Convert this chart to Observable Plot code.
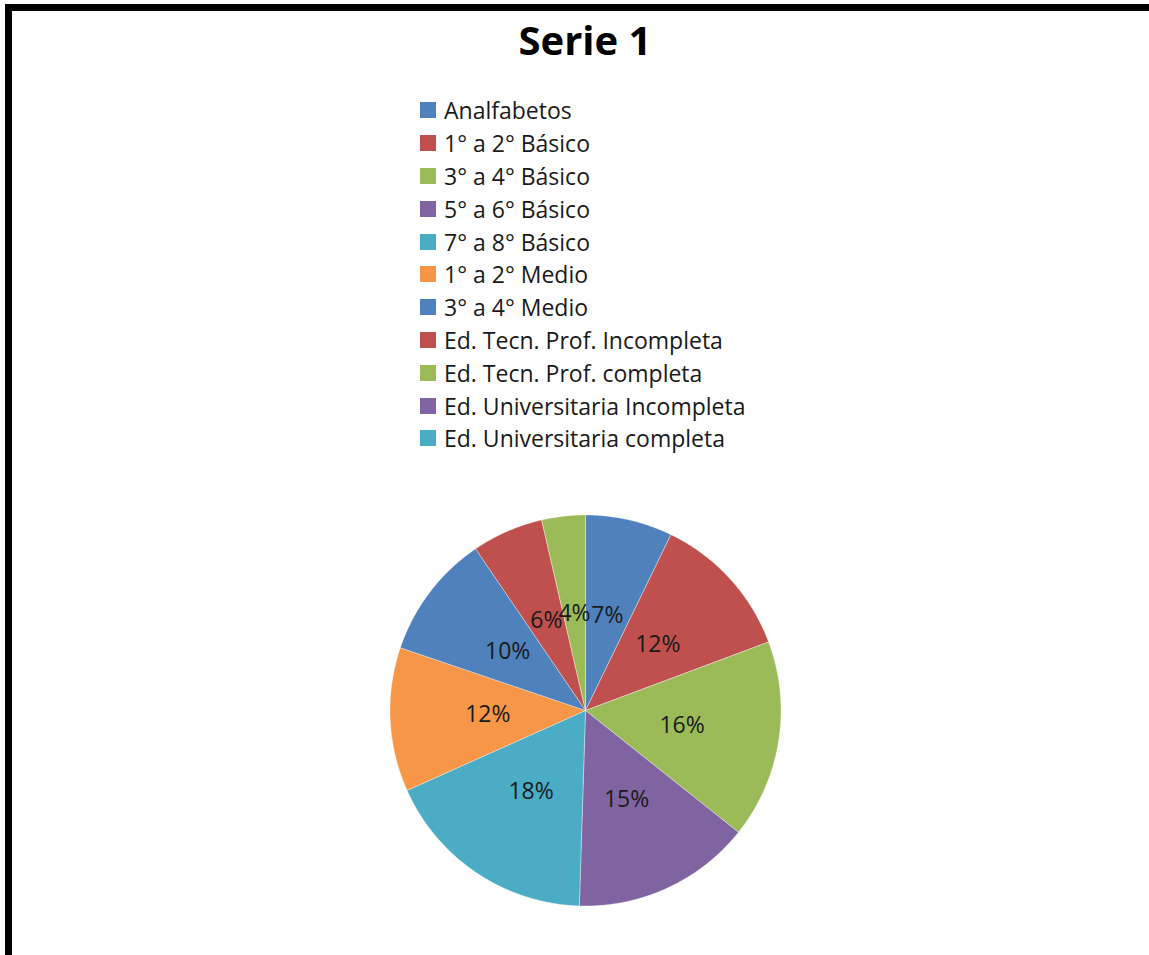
<!DOCTYPE html>
<html>
<head>
<meta charset="utf-8">
<script src="https://cdn.jsdelivr.net/npm/d3@7"></script>
<script src="https://cdn.jsdelivr.net/npm/@observablehq/plot@0.6"></script>
<style>
  html, body { margin: 0; padding: 0; background: #fff; }
  body { width: 1149px; height: 955px; position: relative; overflow: hidden; font-family: "Open Sans", sans-serif; }
  #frameTop { position: absolute; left: 5px; top: 4px; width: 1144px; height: 7px; background: #000; }
  #frameLeft { position: absolute; left: 5px; top: 4px; width: 7px; height: 951px; background: #000; }
  #title { position: absolute; left: 0; width: 1170px; top: 12px; line-height: 56px; text-align: center; font-weight: bold; font-size: 40px; color: #000; }
  #legend { position: absolute; left: 420px; top: 94px; }
  .row { height: 32.8px; display: flex; align-items: center; font-size: 23px; color: #1a1a1a; white-space: nowrap; }
  .sw { width: 16px; height: 16px; margin-right: 8px; flex: none; }
  #chart { position: absolute; left: 385px; top: 510px; }
</style>
</head>
<body>
<div id="frameTop"></div>
<div id="frameLeft"></div>
<div id="title">Serie 1</div>
<div id="legend"></div>
<div id="chart"></div>
<script>
// ---- data ----
const categories = [
  "Analfabetos",
  "1° a 2° Básico",
  "3° a 4° Básico",
  "5° a 6° Básico",
  "7° a 8° Básico",
  "1° a 2° Medio",
  "3° a 4° Medio",
  "Ed. Tecn. Prof. Incompleta",
  "Ed. Tecn. Prof. completa",
  "Ed. Universitaria Incompleta",
  "Ed. Universitaria completa"
];
const values = [7.2, 12.1, 16.4, 14.8, 17.8, 11.9, 10.3, 5.9, 3.6, 0, 0];
const colors = ["#4F81BD", "#C0504D", "#9BBB59", "#8064A2", "#4BACC6", "#F79646",
                "#4F81BD", "#C0504D", "#9BBB59", "#8064A2", "#4BACC6"];

// ---- legend ----
const legend = document.getElementById("legend");
categories.forEach((c, i) => {
  const row = document.createElement("div");
  row.className = "row";
  const sw = document.createElement("span");
  sw.className = "sw";
  sw.style.background = colors[i];
  row.appendChild(sw);
  row.appendChild(document.createTextNode(c));
  legend.appendChild(row);
});

// ---- pie geometry from values ----
const size = 400;          // svg size in px
const R = 195.5;           // pie radius in px (= data units)
const total = d3.sum(values);
const slices = [];
let acc = 0;
values.forEach((v, i) => {
  const a0 = acc / total * 2 * Math.PI;
  acc += v;
  const a1 = acc / total * 2 * Math.PI;
  slices.push({name: categories[i], value: v, a0, a1});
});
const pts = [];
for (const s of slices) {
  if (s.value <= 0) continue;
  pts.push({name: s.name, x: 0, y: 0});
  const n = Math.max(2, Math.ceil((s.a1 - s.a0) / (Math.PI / 360)));
  for (let k = 0; k <= n; k++) {
    const a = s.a0 + (s.a1 - s.a0) * k / n;
    pts.push({name: s.name, x: R * Math.sin(a), y: R * Math.cos(a)});
  }
  pts.push({name: s.name, x: 0, y: 0});
}
const labels = slices.filter(s => s.value > 0).map(s => {
  const a = (s.a0 + s.a1) / 2;
  return {name: s.name, x: 0.5 * R * Math.sin(a), y: 0.5 * R * Math.cos(a),
          text: Math.round(s.value / total * 100) + "%"};
});

const chart = Plot.plot({
  width: size, height: size,
  margin: 0,
  x: {domain: [-size / 2, size / 2], axis: null},
  y: {domain: [-size / 2, size / 2], axis: null},
  color: {domain: categories, range: colors},
  marks: [
    Plot.line(pts, {x: "x", y: "y", z: "name", fill: "name", stroke: "#ffffff", strokeWidth: 0.6, strokeOpacity: 0.6, curve: "linear"}),
    Plot.text(labels, {x: "x", y: "y", text: "text", fontSize: 23, fill: "#1a1a1a", fontFamily: "Open Sans"})
  ]
});
document.getElementById("chart").appendChild(chart);
</script>
</body>
</html>
